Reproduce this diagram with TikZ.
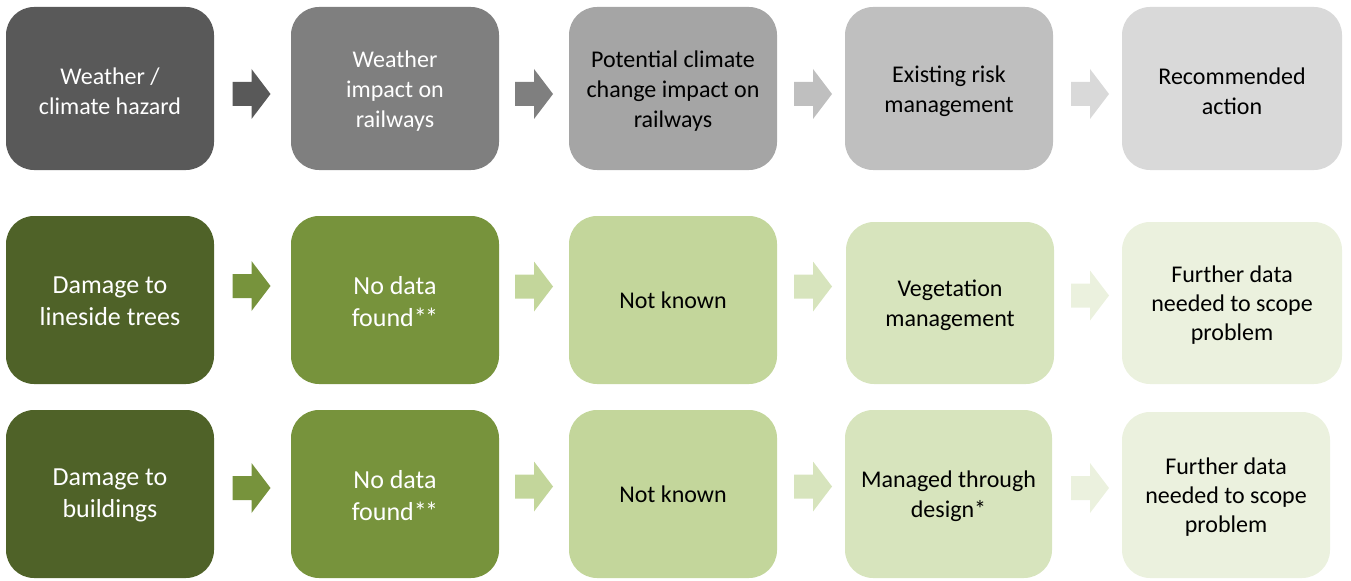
\documentclass[tikz,border=0pt]{standalone}
\usepackage{fontspec}
\setmainfont{Carlito}
\definecolor{g1}{HTML}{595959}
\definecolor{g2}{HTML}{7F7F7F}
\definecolor{g3}{HTML}{A5A5A5}
\definecolor{g4}{HTML}{BFBFBF}
\definecolor{g5}{HTML}{D9D9D9}
\definecolor{v1}{HTML}{4F6228}
\definecolor{v2}{HTML}{77933C}
\definecolor{v3}{HTML}{C3D69B}
\definecolor{v4}{HTML}{D7E4BD}
\definecolor{v5}{HTML}{EBF1DE}
\tikzset{
  box/.style={rectangle, rounded corners=21pt, inner sep=0pt,
    minimum width=156pt, minimum height=122.25pt},
  tall/.style={minimum height=126pt},
  wide/.style={minimum width=165pt},
  txt/.style={inner sep=0pt, align=center},
  sm/.style={txt,font=\fontsize{18pt}{22.5pt}\selectfont},
  lg/.style={txt,font=\fontsize{19.5pt}{24pt}\selectfont},
  xs/.style={txt,font=\fontsize{18pt}{21.5pt}\selectfont},
  light/.style={text=white},
  dark/.style={text=black},
  blockarrow/.pic={\fill[pic actions] (-19,-12) -- (0,-12) -- (0,-25) -- (19,0) -- (0,25) -- (0,12) -- (-19,12) -- cycle;}
}
\newcommand{\dstar}{*\kern-1.2pt*}
\begin{document}
\begin{tikzpicture}[x=0.75pt,y=-0.75pt]
\useasboundingbox (0,0) rectangle (1351,581);
% Row 1
\node[box,fill=g1] (r1c1) at (110,88.5) {};
\node[box,fill=g2] (r1c2) at (395,88.5) {};
\node[box,fill=g3] (r1c3) at (673,88.5) {};
\node[box,fill=g4] (r1c4) at (949,88.5) {};
\node[box,fill=g5,wide] (r1c5) at (1232,88.5) {};
\node[sm,light] (t11) at ([yshift=-2pt]r1c1.center) {Weather /\\climate hazard};
\node[sm,light] (t12) at ([yshift=-2pt]r1c2.center) {Weather\\impact on\\railways};
\node[sm,dark] (t13) at ([yshift=-2pt]r1c3.center) {Potential climate\\change impact on\\railways};
\node[sm,dark] (t14) at ([yshift=-2pt]r1c4.center) {Existing risk\\management};
\node[sm,dark] (t15) at ([yshift=-2pt]r1c5.center) {Recommended\\action};
\pic[fill=g1] at (251.5,94) {blockarrow};
\pic[fill=g2] at (534,94) {blockarrow};
\pic[fill=g4] at (813,94) {blockarrow};
\pic[fill=g5] at (1090,94) {blockarrow};
% Row 2
\node[box,tall,fill=v1] (r2c1) at (110,300) {};
\node[box,tall,fill=v2] (r2c2) at (395,300) {};
\node[box,tall,fill=v3] (r2c3) at (673,300) {};
\node[box,fill=v4,minimum height=121.5pt] (r2c4) at (950,303) {};
\node[box,fill=v5,wide,minimum height=121.5pt] (r2c5) at (1232,303) {};
\node[lg,light] (t21) at ([yshift=-1pt]r2c1.center) {Damage to\\lineside trees};
\node[lg,light] (t22) at ([yshift=-1pt]r2c2.center) {No data\\found\dstar};
\node[sm,dark] (t23) at ([yshift=-0.5pt]r2c3.center) {Not known};
\node[sm,dark] (t24) at ([yshift=-1.5pt]r2c4.center) {Vegetation\\management};
\node[xs,dark] (t25) at ([yshift=-1.5pt]r2c5.center) {Further data\\needed to scope\\problem};
\pic[fill=v2] at (251.5,286) {blockarrow};
\pic[fill=v3] at (534,286.5) {blockarrow};
\pic[fill=v4] at (813,286.5) {blockarrow};
\pic[fill=v5] at (1090,295.5) {blockarrow};
% Row 3
\node[box,tall,fill=v1] (r3c1) at (110,494) {};
\node[box,tall,fill=v2] (r3c2) at (395,494) {};
\node[box,tall,fill=v3] (r3c3) at (673,494) {};
\node[box,tall,fill=v4,minimum width=155.25pt] (r3c4) at (948.5,494) {};
\node[box,fill=v5,minimum height=124.5pt] (r3c5) at (1226,495) {};
\node[lg,light] (t31) at ([yshift=-1pt]r3c1.center) {Damage to\\buildings};
\node[lg,light] (t32) at ([yshift=-1pt]r3c2.center) {No data\\found\dstar};
\node[sm,dark] (t33) at ([yshift=-0.5pt]r3c3.center) {Not known};
\node[sm,dark] (t34) at ([yshift=-1.5pt]r3c4.center) {Managed through\\design*};
\node[xs,dark] (t35) at ([yshift=-1.5pt]r3c5.center) {Further data\\needed to scope\\problem};
\pic[fill=v2] at (251.5,488) {blockarrow};
\pic[fill=v3] at (534,486.5) {blockarrow};
\pic[fill=v4] at (813,486.5) {blockarrow};
\pic[fill=v5] at (1090,488) {blockarrow};
\end{tikzpicture}
\end{document}
